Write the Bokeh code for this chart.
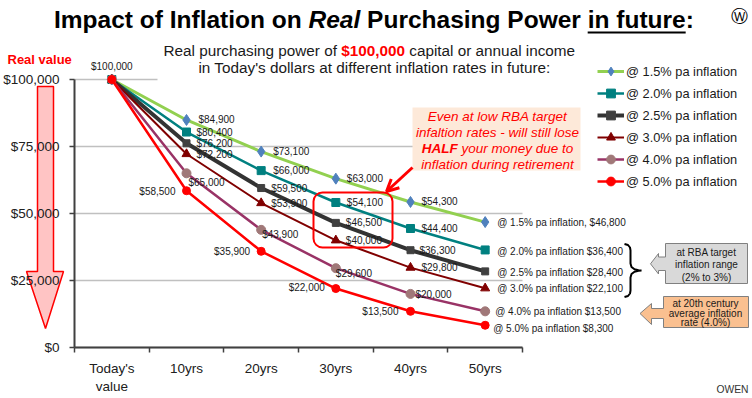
from bokeh.plotting import figure
from bokeh.models import (ColumnDataSource, LabelSet, Label, Legend, LegendItem, FixedTicker,
                          NumeralTickFormatter, PolyAnnotation, BoxAnnotation, Arrow, OpenHead,
                          Range1d, LinearAxis)
from bokeh.core.properties import value
from bokeh.embed import file_html
from bokeh.resources import INLINE

# ---------------- data ----------------
periods = ["Today's\nvalue", "10yrs", "20yrs", "30yrs", "40yrs", "50yrs"]
rates = ["1.5%", "2.0%", "2.5%", "3.0%", "4.0%", "5.0%"]
val_15 = [100000, 84900, 73100, 63000, 54300, 46800]
val_20 = [100000, 80400, 66000, 54100, 44400, 36400]
val_25 = [100000, 76200, 59500, 46500, 36300, 28400]
val_30 = [100000, 72200, 53900, 40000, 29800, 22100]
val_40 = [100000, 65000, 43900, 29600, 20000, 13500]
val_50 = [100000, 58500, 35900, 22000, 13500, 8300]
y_ticks = [0, 25000, 50000, 75000, 100000]

series = [val_15, val_20, val_25, val_30, val_40, val_50]

# ---------------- styles ----------------
line_colors = ["#92d050", "#008080", "#333333", "#800000", "#993366", "#ff0000"]
line_widths = [3, 2.5, 4, 2, 2.5, 2.5]
markers = ["diamond", "square", "square", "triangle", "circle", "circle"]
marker_colors = ["#4f81bd", "#008080", "#404040", "#800000", "#a07878", "#ff0000"]
marker_sizes = [11, 8, 7, 9, 9, 8]

# label placements (dx, dy_down, align) per point; None = no label
placements = [
    [None, (12, 0, "left"), (12, 0, "left"), (11, 0, "left"), (11, 0, "left"), (12, 0, "left")],
    [None, (10, 0, "left"), (12, 0, "left"), (11, 0, "left"), (11, 0, "left"), (12, 1.5, "left")],
    [None, (10, 0, "left"), (10, 0, "left"), (10, 0, "left"), (9, 0, "left"), (12, 1, "left")],
    [None, (10, 0, "left"), (10, 0, "left"), (10, 0, "left"), (11, 0, "left"), (12, 0, "left")],
    [None, (2, 9, "left"), (1, 5, "left"), (0, 5, "left"), (5, 0.5, "left"), (10, 0, "left")],
    [(0, -13, "center"), (-11, 0.5, "right"), (-11, 0, "right"), (-11, -1, "right"), (-12, 0, "right"), (8, 3, "left")],
]

FONT = "Liberation Sans"
W, H = 752, 398
# plot area in canvas pixels
PL, PR, PT, PB = 74, 522, 79, 347
NCAT = len(periods)
XPX = (PR - PL) / NCAT           # px per category
YPX = (PB - PT) / 100000         # px per dollar

xs = [i + 0.5 for i in range(NCAT)]

p = figure(width=W, height=H, output_backend="svg", toolbar_location=None,
           x_range=Range1d(-PL / XPX, (W - PL) / XPX),
           y_range=Range1d(-(H - PB) / YPX, PB / YPX),
           x_axis_location=None, y_axis_location=None, min_border=0)
p.outline_line_color = None
p.background_fill_color = "white"
p.border_fill_color = "white"
p.grid.visible = False


def S(X, Y):
    """canvas pixel (from top-left) -> screen units (x right, y up from bottom)"""
    return X, H - Y


def lab(X, Y, text, size, color="#1a1a1a", style="normal", align="left", baseline="middle", font=FONT):
    sx, sy = S(X, Y)
    p.add_layout(Label(x=sx, y=sy, x_units="screen", y_units="screen", text=text,
                       text_font=font, text_font_size=f"{size}px", text_color=color,
                       text_font_style=style, text_align=align, text_baseline=baseline))


def poly(points, fill, line, lw=1, level="annotation"):
    pts = [S(X, Y) for X, Y in points]
    p.add_layout(PolyAnnotation(xs=[a for a, b in pts], ys=[b for a, b in pts],
                                xs_units="screen", ys_units="screen",
                                fill_color=fill, fill_alpha=1 if fill else 0,
                                line_color=line, line_alpha=1, line_width=lw, level=level))


def box(X0, Y0, X1, Y1, fill=None, line=None, lw=1, radius=0):
    l, t = S(X0, Y0)
    r, b = S(X1, Y1)
    p.add_layout(BoxAnnotation(left=l, right=r, top=t, bottom=b,
                               left_units="screen", right_units="screen",
                               top_units="screen", bottom_units="screen",
                               fill_color=fill, fill_alpha=1 if fill else 0,
                               line_color=line, line_alpha=1, line_width=lw, border_radius=radius))


# ---------------- left "real value" arrow (behind axis labels) ----------------
poly([(37, 86), (53, 86), (53, 271), (63, 271), (45, 328), (26, 271), (37, 271)],
     "#ffc4c4", "#ff0000", 1.5, level="underlay")

ya = LinearAxis(fixed_location=0, bounds=(0, 100000))
ya.ticker = FixedTicker(ticks=y_ticks)
ya.formatter = NumeralTickFormatter(format="$0,0")
ya.major_label_text_font = FONT
ya.major_label_text_font_size = "13.5px"
ya.major_label_text_color = "#202020"
ya.axis_line_color = "#404040"
ya.axis_line_width = 2
ya.major_tick_out = 5
ya.major_tick_in = 0
ya.major_tick_line_color = "#404040"
ya.major_tick_line_width = 1.5
ya.minor_tick_line_color = None
ya.major_label_standoff = 10
p.add_layout(ya, "left")

xa = LinearAxis(fixed_location=0, bounds=(0, NCAT))
xa.ticker = FixedTicker(ticks=xs, minor_ticks=list(range(NCAT + 1)))
xa.major_label_overrides = {x: lab for x, lab in zip(xs, periods)}
xa.major_label_text_font = FONT
xa.major_label_text_font_size = "13.5px"
xa.major_label_text_color = "#202020"
xa.axis_line_color = "#404040"
xa.axis_line_width = 2
xa.major_tick_line_color = None
xa.major_tick_out = 0
xa.major_tick_in = 0
xa.minor_tick_out = 5
xa.minor_tick_in = 0
xa.minor_tick_line_color = "#404040"
xa.minor_tick_line_width = 1.5
xa.major_label_standoff = 8
p.add_layout(xa, "below")

# horizontal gridlines across the category span
p.segment(x0=[0] * len(y_ticks), y0=y_ticks, x1=[NCAT] * len(y_ticks), y1=y_ticks,
          line_color="#c0c0c0", line_width=1.5)

# cover top gridline behind subtitle area
box(157, 75, 560, 83, fill="white")

# ---------------- series ----------------
items = []
for i, vals in enumerate(series):
    src = ColumnDataSource(dict(x=xs, y=vals))
    lr = p.line("x", "y", source=src, line_color=line_colors[i], line_width=line_widths[i])
    sr = p.scatter("x", "y", source=src, marker=markers[i], size=marker_sizes[i],
                   fill_color=marker_colors[i], line_color=marker_colors[i])
    items.append(LegendItem(label=f"@ {rates[i]} pa inflation", renderers=[lr, sr]))

# ---------------- data labels ----------------
lab_data = {"left": dict(x=[], y=[], t=[], xo=[], yo=[]),
            "right": dict(x=[], y=[], t=[], xo=[], yo=[]),
            "center": dict(x=[], y=[], t=[], xo=[], yo=[])}
for i, vals in enumerate(series):
    for j, v in enumerate(vals):
        pl = placements[i][j]
        if pl is None:
            continue
        dx, dy, al = pl
        if j == len(vals) - 1:
            sep = "," if i == 0 else ""
            txt = f"@ {rates[i]} pa inflation{sep} ${v:,}"
        else:
            txt = f"${v:,}"
        d = lab_data[al]
        d["x"].append(xs[j]); d["y"].append(v); d["t"].append(txt)
        d["xo"].append(dx); d["yo"].append(-dy)

for al, d in lab_data.items():
    ls = LabelSet(x="x", y="y", text="t", x_offset="xo", y_offset="yo",
                  source=ColumnDataSource(d), text_font=value(FONT), text_font_size=value("10px"),
                  text_color="#1a1a1a", text_align=al, text_baseline="middle")
    p.add_layout(ls)

# ---------------- legend ----------------
legend = Legend(items=items, location=(597, 206), orientation="vertical", padding=0, spacing=0,
                glyph_height=22, glyph_width=27, label_height=22, label_standoff=2,
                label_text_font=FONT, label_text_font_size="12.8px", label_text_color="#1a1a1a",
                background_fill_alpha=0, border_line_color=None, margin=0)
p.add_layout(legend)

# ---------------- title ----------------
TS = 24.5
SP = 0.278 * TS          # width of a space
x0 = 53.5
w1 = 10.390 * TS         # "Impact of Inflation on "
w2 = 2.112 * TS          # "Real"
w3 = 9.281 * TS          # " Purchasing Power "
w4 = 4.0 * TS            # "in future"
TY = 18.5
lab(x0, TY, "Impact of Inflation on", TS, "#000000", "bold")
lab(x0 + w1, TY, "Real", TS, "#000000", "bold italic")
lab(x0 + w1 + w2 + SP, TY, "Purchasing Power", TS, "#000000", "bold")
lab(x0 + w1 + w2 + w3, TY, "in future", TS, "#000000", "bold")
lab(x0 + w1 + w2 + w3 + w4, TY, ":", TS, "#000000", "bold")
box(x0 + w1 + w2 + w3, 31, x0 + w1 + w2 + w3 + w4, 33, fill="#000000")
lab(739, 15, "\u24cc", 17, "#000000", align="center", font="DejaVu Sans")

# ---------------- subtitle ----------------
SS = 15.3
sx0 = 163
lab(sx0, 50, "Real purchasing power of", SS, "#1a1a1a")
lab(sx0 + 11.616 * SS, 50, "$100,000", SS, "#ff0000", "bold")
lab(sx0 + (11.616 + 4.17 + 0.278) * SS, 50, "capital or annual income", SS, "#1a1a1a")
lab(374, 67, "in Today's dollars at different inflation rates in future:", SS, "#1a1a1a", align="center")

# ---------------- left label ----------------
lab(7, 59, "Real value", 13, "#ff0000", "bold")

# ---------------- callout ----------------
CS = 13.5
box(412, 107, 580, 170, fill="#fde9d9")
lab(497, 116, "Even at low RBA target", CS, "#ff0000", "italic", align="center")
lab(497, 132, "infaltion rates - will still lose", CS, "#ff0000", "italic", align="center")
hx = 497 - (2.666 + 8.56) * CS / 2
lab(hx, 148, "HALF", CS, "#ff0000", "bold italic")
lab(hx + (2.666 + 0.278) * CS, 148, "your money due to", CS, "#ff0000", "italic")
lab(497, 163.5, "inflation during retirement", CS, "#ff0000", "italic", align="center")

a0 = S(412, 167)
a1 = S(386, 191)
p.add_layout(Arrow(x_start=a0[0], y_start=a0[1], x_end=a1[0], y_end=a1[1],
                   start_units="screen", end_units="screen", line_color="#ff0000", line_width=3,
                   end=OpenHead(size=12, line_color="#ff0000", line_width=3)))
box(313, 192, 392, 247, line="#ff0000", lw=2, radius=9)

# ---------------- brace ----------------
half = [(624, 243.5), (627.5, 244.5), (629.5, 247), (630, 250), (630, 263), (631, 266.5),
        (634, 268.8), (638, 269.8), (641, 270)]
lower = [(x, 540 - y) for x, y in reversed(half[:-1])]
path = half + lower
poly(path + list(reversed(path))[1:-1], None, "#000000", 2)

# ---------------- side callouts ----------------
poly([(665, 243), (747, 243), (747, 283), (665, 283), (665, 270), (658, 270), (658, 273.5),
      (650, 263.3), (658, 253), (658, 256.5), (665, 256.5)], "#d9d9d9", "#808080", 1)
lab(706, 251.7, "at RBA target", 10, "#1a1a1a", align="center")
lab(706, 264.3, "inflation range", 10, "#1a1a1a", align="center")
lab(706, 277.3, "(2% to 3%)", 10, "#1a1a1a", align="center")

poly([(663, 296), (748, 296), (748, 327), (663, 327), (663, 318), (651, 318), (651, 324),
      (639.5, 313), (651, 303), (651, 308), (663, 308)], "#fac090", "#808080", 1)
lab(705, 303.3, "at 20th century", 10, "#1a1a1a", align="center")
lab(705, 312.7, "average inflation", 10, "#1a1a1a", align="center")
lab(705, 322.3, "rate (4.0%)", 10, "#1a1a1a", align="center")

lab(748, 389, "OWEN", 10.3, "#333333", align="right")

open("out.html", "w").write(file_html(p, INLINE))
